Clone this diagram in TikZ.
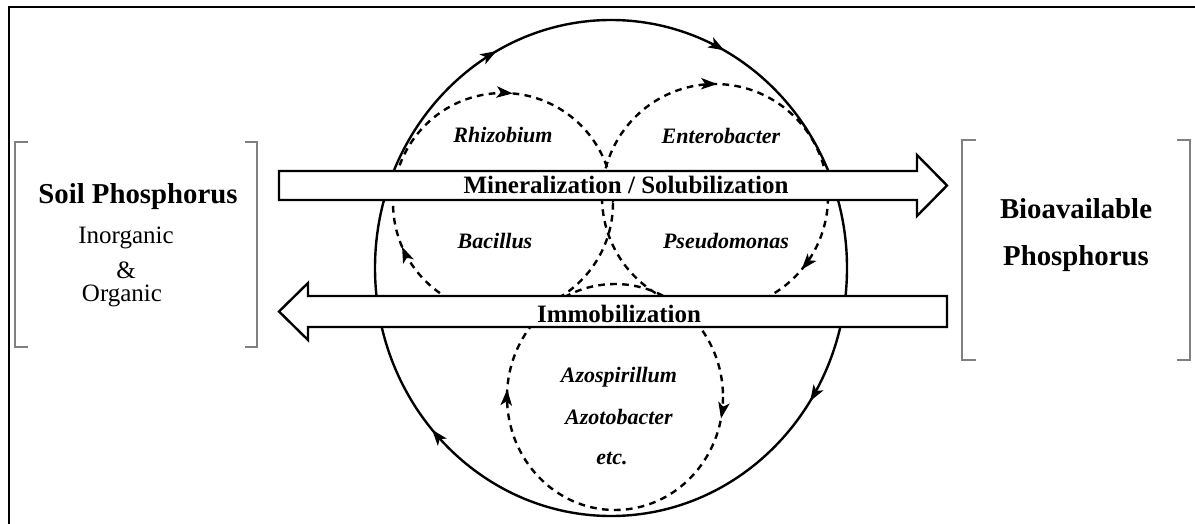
\documentclass[tikz,border=0pt]{standalone}
\usepackage{fontspec}
\setmainfont{Liberation Serif}
\usetikzlibrary{arrows.meta}
\usetikzlibrary{decorations.markings}

\begin{document}
\begin{tikzpicture}[x=0.75pt, y=-0.75pt,
		cyc/.style={line width=1.8pt},
		dashring/.style={line width=1.8pt, dash pattern=on 5pt off 4pt},
		band/.style={draw, fill=white, line width=1.8pt, line join=miter},
		brk/.style={draw=gray, line width=1.3pt},
		big/.style={font=\fontsize{21.6pt}{24pt}\selectfont\bfseries, anchor=base, inner sep=0},
		mid/.style={font=\fontsize{18.75pt}{22pt}\selectfont\bfseries, anchor=base, inner sep=0},
		reg/.style={font=\fontsize{18.75pt}{22pt}\selectfont, anchor=base, inner sep=0},
		bug/.style={font=\fontsize{16.5pt}{20pt}\selectfont\bfseries\itshape, anchor=base, inner sep=0},
		turn/.style 2 args={postaction={decorate, decoration={markings,
				mark=at position #1 with {\arrow{Stealth[length=12pt,width=8.5pt,inset=3pt]}},
				mark=at position #2 with {\arrow{Stealth[length=12pt,width=8.5pt,inset=3pt]}}}}}
		]
		
		\useasboundingbox (0,0) rectangle (1195,524);
		\draw[line width=1.8pt] (9,524) -- (9,7) -- (1195,7);
		
		% brackets
		\draw[brk] (28,142) -- (15,142) -- (15,347) -- (28,347);
		\draw[brk] (245,142) -- (257,142) -- (257,347) -- (245,347);
		\draw[brk] (976,140) -- (962,140) -- (962,360) -- (976,360);
		\draw[brk] (1177,140) -- (1190,140) -- (1190,360) -- (1177,360);
		
		% cycles
		\coordinate (ring) at (611,268);
		\coordinate (rh) at (503,203);
		\coordinate (en) at (715,197);
		\coordinate (az) at (615,397);
		\draw[cyc, turn={0.092}{0.385}, turn={0.671}{0.828}] (ring) ellipse [x radius=236, y radius=248];
		\draw[dashring, turn={0.435}{0.764}] (rh) circle [radius=110];
		\draw[dashring, turn={0.111}{0.753}] (en) circle [radius=113];
		\draw[dashring, turn={0.031}{0.511}] (az) ellipse [x radius=108, y radius=113];
		
		% flows
		\draw[band] (279,171) -- (917,171) -- (917,155) -- (947,185.5) -- (917,216) -- (917,200) -- (279,200) -- cycle;
		\draw[band] (947,296) -- (308,296) -- (308,283) -- (279,311.5) -- (308,340) -- (308,327) -- (947,327) -- cycle;
		
		\node[mid] at (626,194) (min) {Mineralization / Solubilization};
		\node[mid] at (619,322) (imm) {Immobilization};
		
		\node[big] at (138,203) (soil) {Soil Phosphorus};
		\node[reg] at (126,243) (inorg) {Inorganic};
		\node[reg] at (126,278) (amp) {\&};
		\node[reg] at (122,301) (org) {Organic};
		\node[big] at (1076,218) (bio) {Bioavailable};
		\node[big] at (1076,265) (pho) {Phosphorus};
		
		\node[bug] at (503,143) (rhiz) {Rhizobium};
		\node[bug] at (721,144) (ente) {Enterobacter};
		\node[bug] at (495,248) (baci) {Bacillus};
		\node[bug] at (726,248) (pseu) {Pseudomonas};
		\node[bug] at (619,382) (azos) {Azospirillum};
		\node[bug] at (619,424) (azot) {Azotobacter};
		\node[bug] at (612,464) (etc) {etc.};
		
	\end{tikzpicture}
\end{document}
